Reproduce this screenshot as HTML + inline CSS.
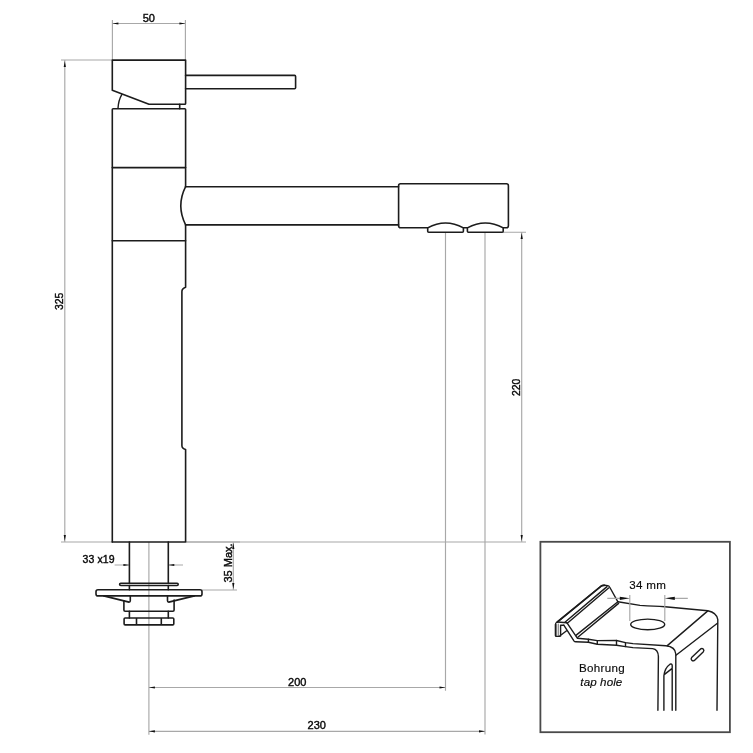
<!DOCTYPE html>
<html><head><meta charset="utf-8">
<style>
html,body{margin:0;padding:0;background:#fff;width:753px;height:753px;overflow:hidden}
svg{display:block;will-change:transform}
text{font-family:"Liberation Sans",sans-serif;font-size:11px;fill:#0a0a0a;stroke:#0a0a0a;stroke-width:0.4}
.big{font-size:11.6px;letter-spacing:0.3px;stroke-width:0.15}
.o{fill:none;stroke:#1c1c1c;stroke-width:1.6;stroke-linejoin:round;stroke-linecap:round}
.t{fill:none;stroke:#1c1c1c;stroke-width:1.4;stroke-linejoin:round;stroke-linecap:round}
.d{fill:none;stroke:#a8a8a8;stroke-width:1.15}
.a{fill:#111;stroke:none}
.i{fill:none;stroke:#1c1c1c;stroke-width:1.4;stroke-linejoin:round;stroke-linecap:round}
</style></head><body>
<svg width="753" height="753" viewBox="0 0 753 753">
<!-- ===== dimension lines ===== -->
<g class="d">
  <!-- 50 -->
  <path d="M112.4 19.9V60 M185.4 19.9V60 M112.4 23.5H185.4"/>
  <!-- 325 -->
  <path d="M61 60H112 M61 542H112 M64.8 60V542"/>
  <!-- 220 -->
  <path d="M503 232.2H526 M186 542H526 M521.7 232.2V542"/>
  <!-- 35 max -->
  <path d="M186 542H240 M202 590H237 M233.3 542V590"/>
  <!-- 33x19 -->
  <path d="M114.6 565H129 M168.5 565H183"/>
  <!-- centre line -->
  <path d="M148.9 542V734.7"/>
  <!-- 200 / 230 -->
  <path d="M445.5 232.2V690.8 M485 232.2V734.4 M148.9 687.5H445.5 M148.9 731.3H485"/>
</g>
<!-- arrowheads -->
<g class="a">
  <path d="M112.4 23.5l6 -1.1v2.2z M185.4 23.5l-6 -1.1v2.2z"/>
  <path d="M64.8 60.9l-1.1 6h2.2z M64.8 541.1l-1.1 -6h2.2z"/>
  <path d="M521.7 233.1l-1.1 6h2.2z M521.7 541.1l-1.1 -6h2.2z"/>
  <path d="M233.3 542.9l-1.1 6h2.2z M233.3 589.1l-1.1 -6h2.2z"/>
  <path d="M129.4 565l-6 -1.1v2.2z M168.3 565l6 -1.1v2.2z"/>
  <path d="M148.9 687.5l6 -1.1v2.2z M445.5 687.5l-6 -1.1v2.2z"/>
  <path d="M148.9 731.3l6 -1.1v2.2z M485 731.3l-6 -1.1v2.2z"/>
</g>
<!-- texts -->
<text x="148.8" y="22" text-anchor="middle">50</text>
<text transform="translate(63.1 301.4) rotate(-90)" text-anchor="middle" style="font-size:10.4px">325</text>
<text transform="translate(520 387.3) rotate(-90)" text-anchor="middle" style="font-size:10.4px">220</text>
<text transform="translate(232 563) rotate(-90)" text-anchor="middle">35 Max.</text>
<text x="94.3" y="563" text-anchor="end" style="font-size:10.5px">33</text><text x="114.5" y="563" text-anchor="end" style="font-size:10.5px">x19</text>
<text x="297.3" y="686" text-anchor="middle">200</text>
<text x="316.8" y="729" text-anchor="middle">230</text>

<!-- ===== tap outline ===== -->
<g class="o">
  <!-- head -->
  <path d="M112.3 90.3V60.1H185.6V103.4Q185.6 104.2 184.8 104.2H149L112.3 90.3"/>
  <!-- handle -->
  <path d="M185.6 75.4H294.6Q295.6 75.4 295.6 76.4V87.7Q295.6 88.7 294.6 88.7H185.6"/>
  <!-- body -->
  <path d="M112.3 542V109.6Q112.3 108.8 113.1 108.8H184.8Q185.6 108.8 185.6 109.6V186.7"/>
  <path d="M185.6 224.9V287.2Q183.6 287.9 182.6 289.3Q181.9 290.3 181.9 291.8V445.6Q181.9 448.8 185.6 449.5V542H112.3"/>
  <path d="M112.3 167.6H185.6 M112.3 240.7H185.6"/>
  <!-- spout -->
  <path d="M185.6 186.7H398.6 M185.6 224.9H398.6"/>
  <path d="M185.6 186.7Q176 205.8 185.6 224.9"/>
  <!-- nozzle -->
  <path d="M398.6 185.8Q398.6 183.8 400.6 183.8H506.4Q508.4 183.8 508.4 185.8V225.8Q508.4 227.8 506.4 227.8H503.2 M427.7 227.8H400.6Q398.6 227.8 398.6 225.8V185.8"/>
  <path d="M463.4 227.8H467.4"/>
  <!-- aerators -->
  <path d="M427.7 227.9V231.2Q427.7 232.2 428.7 232.2H462.4Q463.4 232.2 463.4 231.2V227.9Q445.5 218 427.7 227.9Z"/>
  <path d="M467.4 227.9V231.2Q467.4 232.2 468.4 232.2H502.2Q503.2 232.2 503.2 231.2V227.9Q485.3 218 467.4 227.9Z"/>
  <!-- mounting -->
  <path d="M129.4 542V583.2 M168.3 542V583.2 M129.4 585.5V589.7 M168.3 585.5V589.7"/>
  <path d="M120.8 583.2H177.1Q178.2 583.2 178.2 584.35Q178.2 585.5 177.1 585.5H120.8Q119.6 585.5 119.6 584.35Q119.6 583.2 120.8 583.2Z"/>
  <path d="M98 589.7H200Q202 589.7 202 591.7V593.9Q202 595.9 200 595.9H98Q96 595.9 96 593.9V591.7Q96 589.7 98 589.7Z"/>
  <path d="M103.8 595.9L129 602.1Q130.3 602.1 130.3 600.8V595.9 M194.4 595.9L168.8 602.1Q167.5 602.1 167.5 600.8V595.9"/>
  <path d="M123.9 600.9V610Q123.9 611.2 125.1 611.2H172.9Q174.1 611.2 174.1 610V600.1"/>
  <path d="M129.4 611.2V618 M168.3 611.2V618"/>
  <path d="M125.1 618H172.7Q173.8 618 173.8 619.1V623.8Q173.8 624.9 172.7 624.9H125.1Q124.1 624.9 124.1 623.8V619.1Q124.1 618 125.1 618Z M136.5 618V624.9 M161.3 618V624.9"/>
</g>
<g class="t">
  <path d="M121.8 94.6Q118.5 100 118 108.4"/>
  <path d="M179.7 104.2V108.8" stroke-width="1.6"/>
</g>

<!-- ===== inset ===== -->
<rect x="540.4" y="541.8" width="189.5" height="190.4" fill="none" stroke="#4a4a4a" stroke-width="1.8"/>

<g class="i">
  <path d="M556.6 624.5V636M558.3 624V636" stroke="#777" stroke-width="1"/>
  <!-- ridge / lip -->
  <path d="M559.6 636.4H556.2Q555.4 636.4 555.4 635.6V624.4Q555.4 623 557.3 622L601.5 585.8Q602.6 585.2 604.5 585.3L607.6 585.6Q609 585.8 609.6 587L617.9 601.8"/>
  <path d="M557.3 622L601.5 585.8Q602.6 585.2 604.5 585.3" stroke-width="1.7"/>
  <path d="M557.3 622L567 622.8 M563.8 625.2L574.1 641.1Q574.6 641.7 575.6 641.7L588.4 642.3L597.3 644.3L616.5 645.3L625.5 646.6L633 647.6L652.6 648.6Q658.2 649.4 658.4 656.6L657.9 710.3"/>
  <path d="M560.6 636V625.2H563.8 M566.6 630.8L559.4 636.3"/>
  <path d="M565.2 622L607 586.6 M567.3 623.2L608.6 588"/>
  <path d="M567 622.8L577.3 638.2L588.4 639.2L597.3 640.6L616.5 640.5L625.5 642.6L633 643.6L665.9 645.7Q675.4 646.8 675.8 654L675.8 710.3"/>
  <path d="M588.4 639.3V642.3 M597.3 640.6V644.3 M616.5 640.5V645.3 M625.5 642.6V646.6"/>
  <path d="M617.9 601.8L575.9 635.4 M618.6 603.4L577.8 637.3"/>
  <!-- back edge + right face -->
  <path d="M617.9 601.8L640 605.4Q655 606.3 665 606.7L707.8 610.7Q716.8 612.5 717.8 619.6L717 710.3"/>
  <path d="M707.8 610.9L667.3 645.6 M717.4 623.2L676.3 655"/>
  <!-- hole -->
  <ellipse cx="647.7" cy="624.4" rx="17" ry="5.3"/>
  <!-- slots -->
  <path d="M694.4 660.4L703.4 651.7A2 2 0 0 0 700.6 648.9L691.6 657.6A2 2 0 0 0 694.4 660.4Z"/>
  <path d="M663.9 710.3V675.8Q664.6 668 670 664.2Q672 663.4 672.2 665.5V710.3 M664.2 674.6L672.2 668.4"/>
</g>
<g class="d">
  <path d="M629.8 595V621 M664.8 595V621 M607.3 598.3H624 M670 598.3H687.8"/>
</g>
<g class="a">
  <path d="M629.8 598.3l-10 -1.6v3.2z M664.8 598.3l10 -1.6v3.2z"/>
</g>
<text class="big" x="647.8" y="589.4" text-anchor="middle">34 mm</text>
<text class="big" x="602" y="671.8" text-anchor="middle">Bohrung</text>
<text class="big" x="601.4" y="685.6" text-anchor="middle" font-style="italic" style="letter-spacing:0.1px">tap hole</text>
</svg>
</body></html>
